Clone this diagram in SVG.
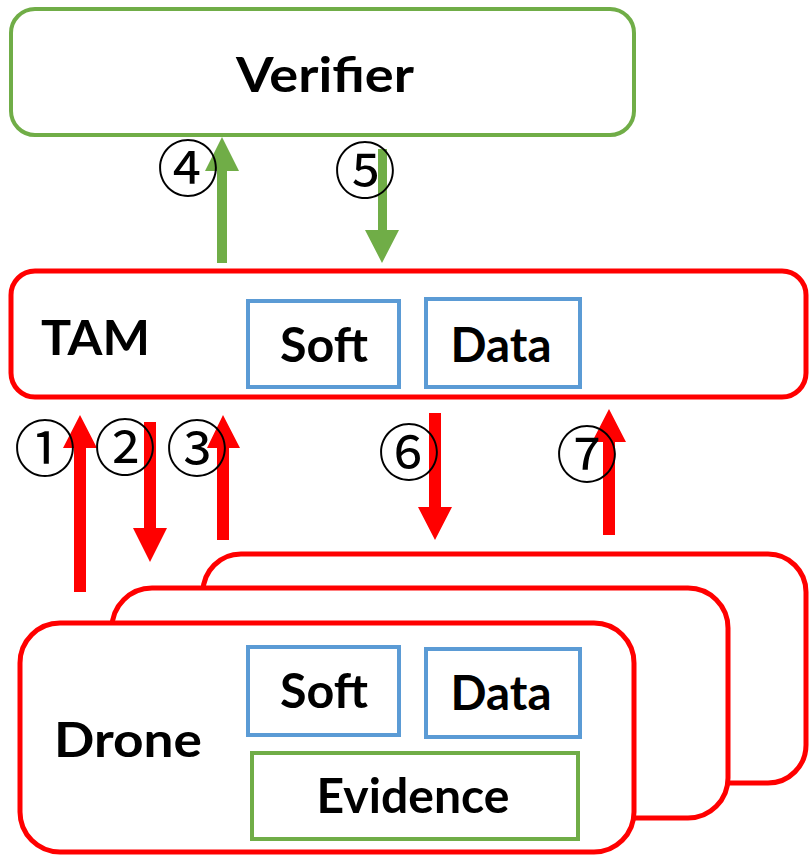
<svg xmlns="http://www.w3.org/2000/svg" width="811" height="855" viewBox="0 0 811 855">
<style>
.lbl{font-family:Lato,"Liberation Sans",sans-serif;font-weight:700;font-size:48px;fill:#000}
.num{font-family:"Noto Sans CJK JP","DejaVu Sans",sans-serif;font-size:62px;fill:#000;text-anchor:middle}
.red{fill:#fff;stroke:#FF0000;stroke-width:5}
.grn{fill:#fff;stroke:#70AD47;stroke-width:4}
.blu{fill:#fff;stroke:#5B9BD5;stroke-width:4}
.ra{fill:#FF0000}
.ga{fill:#70AD47}
</style>
<rect width="811" height="855" fill="#fff"/>
<g id="verifier">
<rect class="grn" x="11" y="9" width="623" height="126" rx="24"/>
<text class="lbl" x="325" y="92" text-anchor="middle" textLength="178" lengthAdjust="spacingAndGlyphs">Verifier</text>
</g>
<g id="tam">
<rect class="red" x="11" y="271" width="795" height="126" rx="24"/>
<text class="lbl" x="41" y="355" textLength="109" lengthAdjust="spacingAndGlyphs">TAM</text>
<g id="tam-soft">
<rect class="blu" x="248" y="301" width="151" height="86"/>
<text class="lbl" x="324" y="362" text-anchor="middle" textLength="88" lengthAdjust="spacingAndGlyphs">Soft</text>
</g>
<g id="tam-data">
<rect class="blu" x="426" y="299" width="154" height="88"/>
<text class="lbl" x="501" y="362" text-anchor="middle" textLength="101" lengthAdjust="spacingAndGlyphs">Data</text>
</g>
</g>
<g id="drone-back">
<rect class="red" x="203" y="554" width="603" height="229" rx="38"/>
</g>
<g id="drone-middle">
<rect class="red" x="112" y="588" width="616" height="230" rx="40"/>
</g>
<g id="drone">
<rect class="red" x="20" y="623" width="614" height="229" rx="40"/>
<text class="lbl" x="54" y="757" textLength="148" lengthAdjust="spacingAndGlyphs">Drone</text>
<g id="drone-soft">
<rect class="blu" x="248" y="647" width="151" height="88"/>
<text class="lbl" x="324" y="708" text-anchor="middle" textLength="88" lengthAdjust="spacingAndGlyphs">Soft</text>
</g>
<g id="drone-data">
<rect class="blu" x="426" y="649" width="154" height="88"/>
<text class="lbl" x="501" y="710" text-anchor="middle" textLength="101" lengthAdjust="spacingAndGlyphs">Data</text>
</g>
<g id="drone-evidence">
<rect class="grn" x="252" y="753" width="326" height="86"/>
<text class="lbl" x="413" y="813" text-anchor="middle" textLength="193" lengthAdjust="spacingAndGlyphs">Evidence</text>
</g>
</g>
<g id="connectors">
<path class="ga" d="M217,263 V171 H205 L222,137 L239,171 H227 V263 Z"/>
<path class="ga" d="M378,149 V230 H365 L382,263 L399,230 H387 V149 Z"/>
<path class="ra" d="M74,592 V448 H63 L80,415 L97,448 H86 V592 Z"/>
<path class="ra" d="M144,422 V528 H133 L150,562 L167,528 H156 V422 Z"/>
<path class="ra" d="M217,540 V448 H207 L223,415 L240,448 H229 V540 Z"/>
<path class="ra" d="M429,413 V507 H418 L435,540 L452,507 H441 V413 Z"/>
<path class="ra" d="M603,535 V442 H592 L609,409 L626,442 H615 V535 Z"/>
</g>
<g id="step-labels">
<text class="num" x="188" y="192">④</text>
<text class="num" x="365" y="194">⑤</text>
<text class="num" x="45" y="472">①</text>
<text class="num" x="125" y="471">②</text>
<text class="num" x="197" y="472">③</text>
<text class="num" x="409" y="476">⑥</text>
<text class="num" x="587" y="478">⑦</text>
</g>
</svg>
